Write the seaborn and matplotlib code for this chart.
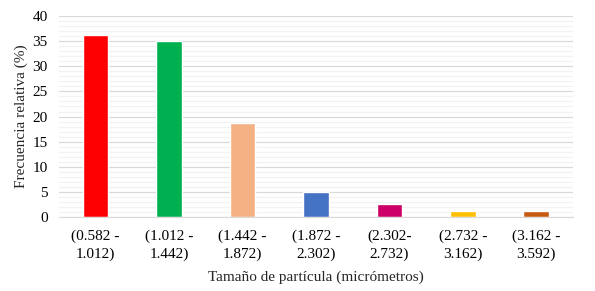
import matplotlib
matplotlib.use("Agg")
import matplotlib.pyplot as plt
import seaborn as sns
import pandas as pd
from matplotlib.ticker import MultipleLocator

# data
categories = ["(0.582 -\n1.012)", "(1.012 -\n1.442)", "(1.442 -\n1.872)", "(1.872 -\n2.302)",
              "(2.302-\n2.732)", "(2.732 -\n3.162)", "(3.162 -\n3.592)"]
values = [36.2, 35.0, 18.7, 5.0, 2.6, 1.2, 1.2]
colors = ["#FF0000", "#00B050", "#F4B183", "#4472C4", "#CC0066", "#FFC000", "#C55A11"]

sns.set_style("white")
plt.rcParams['font.family'] = ['Liberation Serif', 'DejaVu Serif']

df = pd.DataFrame({"cat": categories, "val": values})

fig, ax = plt.subplots(figsize=(5.95, 2.91), dpi=100)
fig.subplots_adjust(left=0.099, right=0.963, top=0.945, bottom=0.254)

sns.barplot(data=df, x="cat", y="val", hue="cat", palette=colors, legend=False,
            width=0.35, saturation=1, ax=ax)

ax.set_ylim(0, 40)
ax.yaxis.set_major_locator(MultipleLocator(5))
ax.yaxis.set_minor_locator(MultipleLocator(1))
ax.grid(axis="y", which="major", color="#D9D9D9", linewidth=0.9)
ax.grid(axis="y", which="minor", color="#F2F2F2", linewidth=0.9)
ax.set_axisbelow(True)
for s in ["left", "right", "top"]:
    ax.spines[s].set_visible(False)
ax.spines["bottom"].set_color("#D9D9D9")
ax.tick_params(axis="both", which="both", length=0, labelsize=11, colors="#000000")
ax.tick_params(axis="y", pad=8)
ax.tick_params(axis="x", pad=9)
for lbl in ax.get_xticklabels():
    lbl.set_linespacing(1.45)

ax.set_xlabel("Tamaño de partícula (micrómetros)", fontsize=11, labelpad=7)
ax.set_ylabel("Frecuencia relativa (%)", fontsize=11, labelpad=3)

plt.savefig("out.png", dpi=100)
